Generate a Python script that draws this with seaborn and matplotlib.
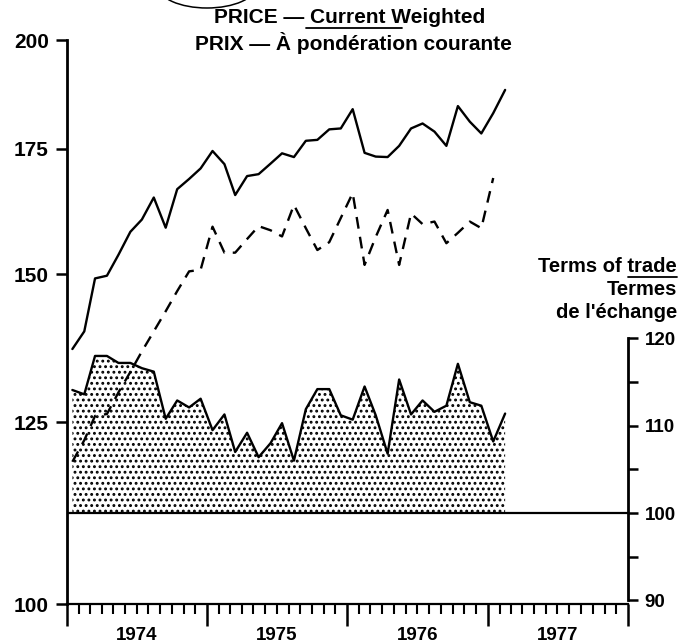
"""Export / import prices and terms of trade, 1974-1977."""

import matplotlib

matplotlib.use("Agg")
import matplotlib.dates as mdates
import matplotlib.pyplot as plt
import pandas as pd
import seaborn as sns
from matplotlib.lines import Line2D
from matplotlib.patches import Ellipse
from matplotlib.ticker import NullFormatter, NullLocator

# monthly observations, Jan 1974 - Feb 1977
months = pd.period_range("1974-01", "1977-02", freq="M")
export_price = [136.8, 139.8, 149.2, 149.7, 153.6, 158.0, 160.4, 164.8, 158.8, 166.5,
                168.6, 170.8, 174.5, 171.7, 165.3, 169.2, 169.6, 171.8, 174.0, 173.2,
                176.7, 176.9, 179.2, 179.4, 183.7, 174.1, 173.3, 173.2, 175.6, 179.4,
                180.5, 178.7, 175.6, 184.4, 180.9, 178.3, 182.8, 188.1]
import_price = [119.1, 122.3, 126.0, 126.3, 129.7, 133.0, 136.4, 139.8, 143.3, 146.9,
                150.5, 150.8, 159.0, 154.0, 154.0, 156.6, 159.1, 158.3, 157.1, 163.3,
                158.7, 154.5, 156.0, 160.7, 165.7, 151.7, 157.0, 162.3, 151.7, 161.6,
                159.5, 160.0, 155.8, 157.8, 160.0, 158.7, 168.8]
terms_of_trade = [114.1, 113.6, 118.0, 118.0, 117.2, 117.2, 116.6, 116.2, 110.8, 112.9,
                  112.1, 113.1, 109.5, 111.3, 107.0, 109.2, 106.4, 108.0, 110.3, 106.0,
                  111.9, 114.2, 114.2, 111.2, 110.7, 114.5, 111.2, 106.8, 115.3, 111.3,
                  112.9, 111.6, 112.3, 117.1, 112.7, 112.3, 108.2, 111.4]

year_labels = ["1974", "1975", "1976", "1977"]
price_ticks = [100, 125, 150, 175, 200]
tot_ticks = [90, 95, 100, 105, 110, 115, 120]
tot_labels = ["90", "", "100", "", "110", "", "120"]

sns.set_theme(style="ticks", rc={
    "axes.edgecolor": "black", "text.color": "black",
    "xtick.color": "black", "ytick.color": "black",
})
plt.rcParams["font.family"] = ["Liberation Sans", "DejaVu Sans"]
plt.rcParams["font.weight"] = "bold"
plt.rcParams["hatch.linewidth"] = 1.3

W, H = 696, 644
fig = plt.figure(figsize=(W / 100, H / 100), dpi=100)
fig.patch.set_facecolor("white")

ax = fig.add_axes([67 / W, 1 - 604 / H, 561 / W, 564 / H])
ax2 = ax.twinx()
ax.set_zorder(ax2.get_zorder() + 1)
ax.patch.set_visible(False)

dates = months.to_timestamp() + pd.Timedelta(days=14)

# terms of trade: dotted area above the 100 line (right scale)
ax2.fill_between(dates, 100, terms_of_trade, facecolor="white", edgecolor="black",
                 hatch="...", linewidth=0)
sns.lineplot(x=dates, y=terms_of_trade, ax=ax2, color="black", linewidth=1.7)
ax2.axhline(100, color="black", linewidth=1.6)

# prices (left, log scale)
sns.lineplot(x=dates, y=export_price, ax=ax, color="black", linewidth=1.7)
sns.lineplot(x=dates[:len(import_price)], y=import_price, ax=ax, color="black",
             linewidth=1.7, linestyle=(0, (5, 3.5)))

ax.set_yscale("log")
ax.set_ylim(100, 200)
ax.set_yticks(price_ticks, labels=[str(t) for t in price_ticks])
ax.yaxis.set_minor_locator(NullLocator())
ax.set_xlim(pd.Timestamp("1974-01-01"), pd.Timestamp("1978-01-01"))
ax.xaxis.set_major_locator(mdates.YearLocator())
ax.xaxis.set_minor_locator(mdates.MonthLocator())
ax.xaxis.set_major_formatter(NullFormatter())
ax.set_xlabel("")
ax.set_ylabel("")
ax.tick_params(axis="y", direction="out", length=8, width=1.8, pad=5, labelsize=15)
ax.tick_params(axis="x", which="major", direction="out", length=16, width=1.8)
ax.tick_params(axis="x", which="minor", direction="out", length=7, width=1.5)
for side in ["top", "right"]:
    ax.spines[side].set_visible(False)
ax.spines["left"].set_linewidth(2.0)
ax.spines["bottom"].set_linewidth(1.6)

for i, year in enumerate(year_labels):
    ax.text(pd.Timestamp(f"{1974 + i}-07-01"), -0.056, year, transform=ax.get_xaxis_transform(),
            ha="center", va="center", fontsize=13.5, fontweight="bold")

ax2.set_ylim(89.58, 154.2)
ax2.set_yticks(tot_ticks, labels=tot_labels)
ax2.yaxis.set_minor_locator(NullLocator())
ax2.set_ylabel("")
ax2.tick_params(axis="y", direction="out", length=7, width=1.8, pad=5, labelsize=13.5)
for side in ["top", "left", "bottom"]:
    ax2.spines[side].set_visible(False)
ax2.spines["right"].set_bounds(90, 120)
ax2.spines["right"].set_linewidth(2.0)

# titles
t1 = fig.text(350 / W, 1 - 23 / H, "PRICE — Current Weighted", ha="center", va="baseline",
              fontsize=15, fontweight="bold")
fig.text(353 / W, 1 - 50 / H, "PRIX — À pondération courante", ha="center", va="baseline",
         fontsize=15, fontweight="bold")
t2 = fig.text(677 / W, 1 - 272 / H, "Terms of trade", ha="right", va="baseline",
              fontsize=14.5, fontweight="bold")
fig.text(677 / W, 1 - 295 / H, "Termes", ha="right", va="baseline",
         fontsize=14.5, fontweight="bold")
fig.text(677 / W, 1 - 318 / H, "de l'échange", ha="right", va="baseline",
         fontsize=14.5, fontweight="bold")

renderer = fig.canvas.get_renderer()


def text_width(s, size):
    probe = fig.text(0, 0, s, fontsize=size, fontweight="bold")
    w = probe.get_window_extent(renderer).width
    probe.remove()
    return w


def hline_px(x0, x1, y):
    fig.add_artist(Line2D([x0 / W, x1 / W], [1 - y / H, 1 - y / H],
                          transform=fig.transFigure, color="black", linewidth=1.3))


left = t1.get_window_extent(renderer).x0
end = left + text_width("PRICE — Current", 15)
hline_px(end - text_width("Current", 15) - 4, end + 16, 28)

right = t2.get_window_extent(renderer).x1
hline_px(right - text_width("trade", 14.5), right, 277)

fig.add_artist(Ellipse((207 / W, 1 + 14 / H), 98 / W, 44 / H, transform=fig.transFigure,
                       fill=False, edgecolor="black", linewidth=1.1, clip_on=False))

fig.savefig("out.png", dpi=100)
